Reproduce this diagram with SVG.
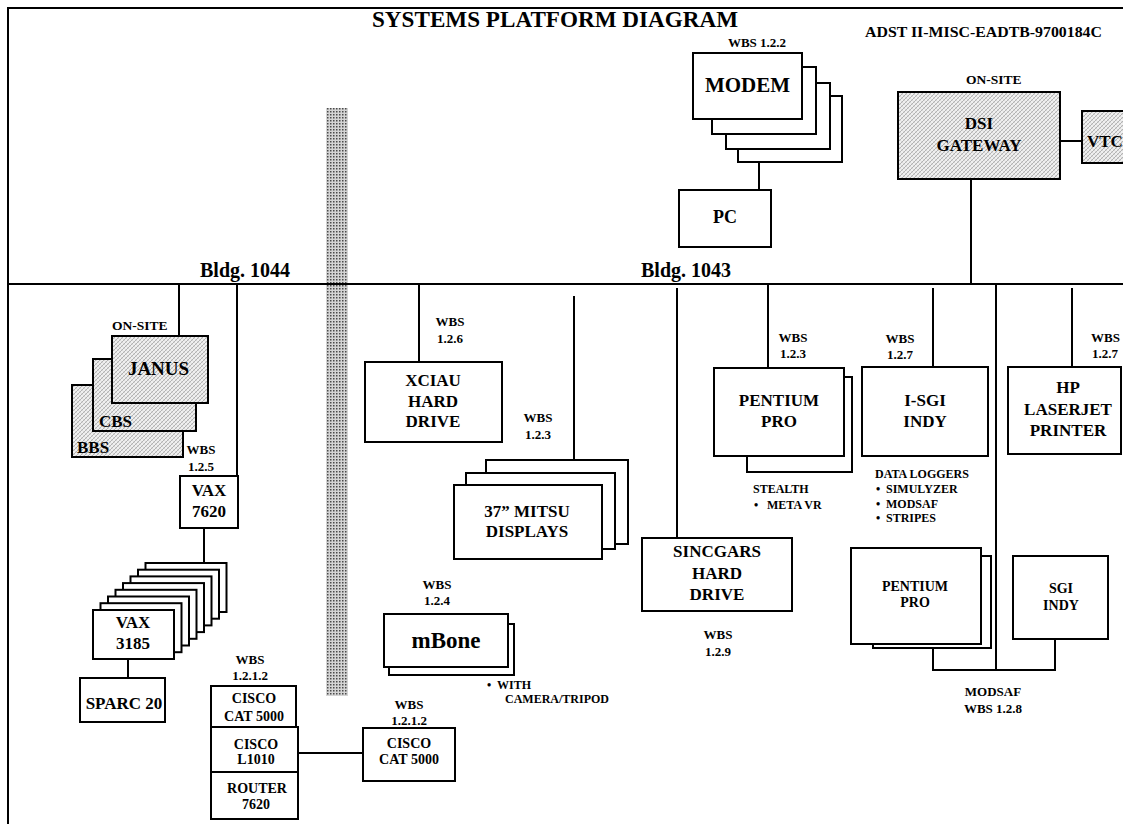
<svg xmlns="http://www.w3.org/2000/svg" width="1123" height="827" viewBox="0 0 1123 827">
<style>
text{font-family:"Liberation Serif","Times New Roman",serif;font-weight:bold;fill:#000}
.c{text-anchor:middle}
.t23{font-size:23px}
.f20{font-size:20px}
.f19{font-size:19px}
.f17{font-size:17px}
.f14{font-size:14px}
.f13{font-size:13px}
.f12{font-size:12px}
.box{fill:#fff;stroke:#000;stroke-width:2}
.hbox{fill:url(#hatch);stroke:#000;stroke-width:2}
.ln{stroke:#000;stroke-width:2;fill:none}
</style>
<defs>
<pattern id="hatch" patternUnits="userSpaceOnUse" width="4" height="4">
<rect width="4" height="4" fill="#f0f0f0"/>
<path d="M0,4 L4,0" stroke="#9a9a9a" stroke-width="0.7"/>
<path d="M0,0 L4,4" stroke="#c4c4c4" stroke-width="0.5"/>
</pattern>
<pattern id="bar" patternUnits="userSpaceOnUse" width="3" height="3">
<rect width="3" height="3" fill="#d4d4d4"/>
<rect width="1.5" height="1.5" fill="#4a4a4a"/>
</pattern>
</defs>
<rect width="1123" height="827" fill="#fff"/>

<g id="frame">
<path class="ln" d="M8,824 L8,8 L1123,8"/>
<text class="t23" x="372" y="27" textLength="366" lengthAdjust="spacingAndGlyphs">SYSTEMS PLATFORM DIAGRAM</text>
<text x="865" y="37" style="font-size:15px" textLength="237" lengthAdjust="spacingAndGlyphs">ADST II-MISC-EADTB-9700184C</text>
<rect x="326" y="108" width="22" height="588" fill="url(#bar)"/>
<text class="f20" x="200" y="277">Bldg. 1044</text>
<text class="f20" x="641" y="277">Bldg. 1043</text>
</g>

<g id="connectors">
<line class="ln" x1="8" y1="284" x2="1123" y2="284"/>
<line class="ln" x1="759" y1="162" x2="759" y2="190"/>
<line class="ln" x1="971" y1="179" x2="971" y2="285"/>
<line class="ln" x1="1060" y1="141" x2="1082" y2="141"/>
<line class="ln" x1="179" y1="284" x2="179" y2="336"/>
<line class="ln" x1="237" y1="284" x2="237" y2="476"/>
<line class="ln" x1="204" y1="528" x2="204" y2="563"/>
<line class="ln" x1="128" y1="659" x2="128" y2="678"/>
<line class="ln" x1="298" y1="753" x2="363" y2="753"/>
<line class="ln" x1="419" y1="284" x2="419" y2="362"/>
<line class="ln" x1="574" y1="296" x2="574" y2="460"/>
<line class="ln" x1="677" y1="288" x2="677" y2="538"/>
<line class="ln" x1="768" y1="284" x2="768" y2="368"/>
<line class="ln" x1="933" y1="288" x2="933" y2="367"/>
<line class="ln" x1="996" y1="284" x2="996" y2="670"/>
<line class="ln" x1="1072" y1="288" x2="1072" y2="367"/>
<path class="ln" d="M933,644 L933,670 L1055,670 L1055,639"/>
</g>

<g id="modem">
<rect class="box" x="738" y="96" width="104" height="66"/>
<rect class="box" x="726" y="83" width="104" height="66"/>
<rect class="box" x="712" y="67" width="104" height="67"/>
<rect class="box" x="693" y="53" width="109" height="66"/>
<text class="c" x="747.5" y="92" style="font-size:21px">MODEM</text>
<text class="f13 c" x="757" y="47">WBS 1.2.2</text>
</g>

<g id="pc">
<rect class="box" x="679" y="190" width="92" height="57"/>
<text class="c" x="725" y="223" style="font-size:18px">PC</text>
</g>

<g id="dsi-gateway">
<text x="966" y="84" style="font-size:13.5px">ON-SITE</text>
<rect class="hbox" x="898" y="92" width="162" height="87"/>
<text class="f17 c" x="979" y="129">DSI</text>
<text class="f17 c" x="979" y="151">GATEWAY</text>
</g>

<g id="vtc">
<rect class="hbox" x="1082" y="111" width="50" height="52"/>
<text class="f17" x="1087" y="147">VTC</text>
</g>

<g id="janus-stack">
<rect class="hbox" x="72" y="385" width="111" height="72"/>
<rect class="hbox" x="93" y="359" width="103" height="72"/>
<rect class="hbox" x="112" y="336" width="96" height="67"/>
<text class="f19 c" x="158.5" y="375">JANUS</text>
<text class="f17" x="99" y="427">CBS</text>
<text class="f17" x="77" y="453">BBS</text>
<text x="112" y="330" style="font-size:13.5px">ON-SITE</text>
<text class="f13 c" x="201" y="454">WBS</text>
<text class="f13 c" x="201" y="471">1.2.5</text>
</g>

<g id="vax7620">
<rect class="box" x="180" y="476" width="58" height="52"/>
<text class="f17 c" x="209" y="496">VAX</text>
<text class="f17 c" x="209" y="517">7620</text>
</g>

<g id="vax3185">
<rect class="box" x="145.5" y="563" width="81" height="49"/>
<rect class="box" x="138" y="569.7" width="81" height="49"/>
<rect class="box" x="130.5" y="576.4" width="81" height="49"/>
<rect class="box" x="123" y="583.1" width="81" height="49"/>
<rect class="box" x="115.5" y="589.8" width="81" height="49"/>
<rect class="box" x="108" y="596.5" width="81" height="49"/>
<rect class="box" x="100.5" y="603.2" width="81" height="49"/>
<rect class="box" x="93" y="610" width="81" height="49"/>
<text class="f17 c" x="133" y="628">VAX</text>
<text class="f17 c" x="133" y="649">3185</text>
</g>

<g id="sparc20">
<rect class="box" x="80" y="678" width="85" height="44"/>
<text class="f17 c" x="124" y="709">SPARC 20</text>
</g>

<g id="cisco-stack">
<text class="f13 c" x="250" y="664">WBS</text>
<text class="f13 c" x="250" y="680">1.2.1.2</text>
<rect class="box" x="211" y="686" width="85" height="41"/>
<rect class="box" x="211" y="727" width="87" height="45"/>
<rect class="box" x="211" y="772" width="87" height="47"/>
<text class="f14 c" x="254" y="703">CISCO</text>
<text class="f14 c" x="254" y="721">CAT 5000</text>
<text class="f14 c" x="256" y="749">CISCO</text>
<text class="f14 c" x="256" y="764">L1010</text>
<text class="f14 c" x="257" y="793">ROUTER</text>
<text class="f14 c" x="256" y="809">7620</text>
</g>

<g id="cisco-cat5000">
<text class="f13 c" x="409" y="709">WBS</text>
<text class="f13 c" x="409" y="725">1.2.1.2</text>
<rect class="box" x="363" y="728" width="92" height="53"/>
<text class="f14 c" x="409" y="748">CISCO</text>
<text class="f14 c" x="409" y="764">CAT 5000</text>
</g>

<g id="mbone">
<text class="f13 c" x="437" y="589">WBS</text>
<text class="f13 c" x="437" y="605">1.2.4</text>
<rect class="box" x="389" y="624" width="125" height="51"/>
<rect class="box" x="384" y="614" width="124" height="53"/>
<text class="c" x="446" y="648" style="font-size:23px">mBone</text>
<text class="f12" x="487" y="689">•</text>
<text class="f12" x="497" y="689">WITH</text>
<text class="f12" x="505" y="703">CAMERA/TRIPOD</text>
</g>

<g id="xciau">
<text class="f13 c" x="450" y="326">WBS</text>
<text class="f13 c" x="450" y="343">1.2.6</text>
<rect class="box" x="365" y="362" width="137" height="80"/>
<text class="f17 c" x="433" y="386">XCIAU</text>
<text class="f17 c" x="433" y="407">HARD</text>
<text class="f17 c" x="433" y="427">DRIVE</text>
</g>

<g id="mitsu">
<text class="f13 c" x="538" y="422">WBS</text>
<text class="f13 c" x="538" y="439">1.2.3</text>
<rect class="box" x="486" y="460" width="142" height="84"/>
<rect class="box" x="466" y="473" width="149" height="76"/>
<rect class="box" x="454" y="485" width="148" height="74"/>
<text class="f17 c" x="527" y="517">37” MITSU</text>
<text class="f17 c" x="527" y="537">DISPLAYS</text>
</g>

<g id="sincgars">
<rect class="box" x="642" y="538" width="150" height="73"/>
<text class="f17 c" x="717" y="557">SINCGARS</text>
<text class="f17 c" x="717" y="579">HARD</text>
<text class="f17 c" x="717" y="600">DRIVE</text>
<text class="f13 c" x="718" y="639">WBS</text>
<text class="f13 c" x="718" y="656">1.2.9</text>
</g>

<g id="pentium-pro">
<text class="f13 c" x="793" y="342">WBS</text>
<text class="f13 c" x="793" y="358">1.2.3</text>
<rect class="box" x="747" y="377" width="105" height="95"/>
<rect class="box" x="714" y="368" width="130" height="88"/>
<text class="f17 c" x="779" y="406">PENTIUM</text>
<text class="f17 c" x="779" y="427">PRO</text>
<text class="f12" x="753" y="493">STEALTH</text>
<text class="f12" x="754" y="509">•</text>
<text class="f12" x="767" y="509">META VR</text>
</g>

<g id="i-sgi-indy">
<text class="f13 c" x="900" y="343">WBS</text>
<text class="f13 c" x="900" y="359">1.2.7</text>
<rect class="box" x="862" y="367" width="126" height="89"/>
<text class="f17 c" x="925" y="406">I-SGI</text>
<text class="f17 c" x="925" y="427">INDY</text>
<text class="f12" x="875" y="478">DATA LOGGERS</text>
<text class="f12" x="876" y="493">•</text>
<text class="f12" x="886" y="493">SIMULYZER</text>
<text class="f12" x="876" y="508">•</text>
<text class="f12" x="886" y="508">MODSAF</text>
<text class="f12" x="876" y="522">•</text>
<text class="f12" x="886" y="522">STRIPES</text>
</g>

<g id="hp-laserjet">
<text class="f13" x="1091" y="342">WBS</text>
<text class="f13" x="1092" y="358">1.2.7</text>
<rect class="box" x="1008" y="367" width="113" height="87"/>
<text class="f17 c" x="1068" y="393">HP</text>
<text class="f17 c" x="1068" y="415">LASERJET</text>
<text class="f17 c" x="1068" y="436">PRINTER</text>
</g>

<g id="pentium-pro-modsaf">
<rect class="box" x="873" y="556" width="118" height="92"/>
<rect class="box" x="851" y="548" width="130" height="96"/>
<text class="f14 c" x="915" y="591">PENTIUM</text>
<text class="f14 c" x="915" y="607">PRO</text>
</g>

<g id="sgi-indy">
<rect class="box" x="1013" y="556" width="95" height="83"/>
<text class="f14 c" x="1061" y="593">SGI</text>
<text class="f14 c" x="1061" y="610">INDY</text>
</g>

<g id="modsaf-label">
<text class="f13 c" x="993" y="696">MODSAF</text>
<text class="f13 c" x="993" y="713">WBS 1.2.8</text>
</g>
</svg>
